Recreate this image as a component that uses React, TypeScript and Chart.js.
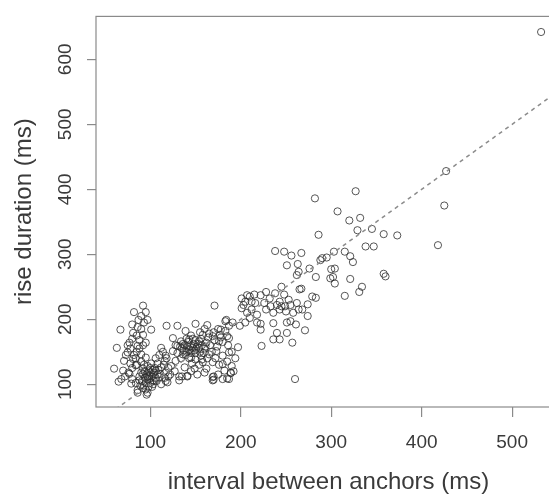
import React, { useEffect, useRef } from "react";
import { Chart, registerables } from "chart.js";

Chart.register(...registerables);

// interval between anchors (ms)
const intervalMs: number[] = [
  532, 427, 425, 418, 373, 358, 345, 327, 282, 307, 320, 332, 329, 286, 338, 347, 303, 315, 321, 324,
  295, 290, 288, 304, 302, 304, 321, 358, 360, 334, 331, 315, 238, 248, 256, 267, 251, 263, 276, 264,
  262, 283, 299, 267, 245, 283, 279, 274, 274, 271, 257, 260, 236, 223, 243, 240, 251, 251, 255, 261,
  236, 222, 222, 300, 265,
  201, 205, 210, 216, 222, 228, 232, 240, 243, 249, 255, 262, 264, 201, 207, 212, 218, 228, 236, 243,
  210, 218, 205, 199, 191, 187, 183, 212, 207, 203, 245, 250, 258, 268, 253, 226, 233, 215, 238, 248,
  171, 197, 185, 189, 185, 170, 170, 135, 141, 117, 118, 130, 150, 163, 184, 178, 139, 125, 134, 143,
  158, 169, 176, 187, 112, 117, 125, 130, 147, 154, 162, 136, 145, 156, 165, 173, 180, 187, 169, 180,
  128, 116, 138, 149, 132, 141, 169, 169, 187, 189, 182, 132, 162, 158,
  135, 138, 140, 142, 144, 146, 148, 150, 152, 154, 136, 139, 143, 147, 151, 155, 157, 160, 133, 137,
  141, 145, 149, 153, 156, 159, 161, 164, 166, 168, 171, 174, 177, 180, 183, 186, 190, 194, 140, 145,
  150, 155, 160, 165, 170, 175, 178, 130, 128, 134, 143, 150, 157, 163, 146, 154, 172, 176, 185, 190,
  192, 127, 123, 120, 145, 152, 160, 175, 180,
  92, 82, 95, 87, 97, 80, 101, 67, 81, 92, 95, 63, 77, 86, 75, 90, 95, 81, 71, 84,
  60, 70, 77, 92, 99, 68, 88, 97, 103, 79, 93, 86, 97, 106, 112, 117, 119, 110, 65, 96, 86,
  88, 90, 92, 94, 96, 98, 100, 102, 104, 106, 108, 91, 93, 95, 97, 99, 101, 103, 105, 107,
  109, 111, 89, 92, 95, 98, 100, 102, 104, 94, 97, 100, 103, 90, 85, 80, 78, 82, 85, 88,
  92, 78, 84, 88, 85, 90, 93, 86, 90, 80, 75, 73, 76, 72, 80, 84, 115, 118, 114, 110,
  106, 108, 112, 116, 122, 120,
];

// rise duration (ms)
const riseMs: number[] = [
  642, 428, 375, 314, 329, 331, 339, 397, 386, 366, 352, 356, 337, 330, 312, 312, 304, 304, 297, 288,
  295, 294, 291, 278, 265, 255, 262, 270, 266, 250, 242, 236, 305, 304, 298, 302, 283, 285, 278, 273,
  268, 265, 263, 247, 250, 233, 235, 223, 205, 183, 164, 108, 169, 159, 169, 179, 179, 195, 197, 192,
  194, 193, 184, 277, 246,
  232, 227, 235, 225, 237, 242, 232, 222, 227, 220, 222, 225, 215, 217, 210, 215, 207, 215, 210, 215,
  202, 195, 195, 190, 195, 190, 197, 227, 237, 222, 220, 212, 210, 215, 230, 225, 220, 238, 240, 238,
  221, 157, 174, 117, 109, 112, 107, 112, 113, 105, 190, 190, 193, 191, 199, 184, 182, 171, 166, 169,
  176, 174, 166, 171, 156, 144, 151, 159, 156, 156, 164, 146, 141, 144, 146, 151, 144, 149, 134, 131,
  136, 136, 126, 124, 112, 112, 111, 106, 108, 118, 121, 106, 124, 134,
  155, 160, 150, 165, 158, 152, 162, 148, 158, 166, 162, 145, 153, 170, 155, 150, 160, 155, 158, 152,
  158, 148, 152, 162, 170, 148, 158, 172, 160, 150, 168, 158, 176, 165, 182, 160, 150, 140, 170, 175,
  168, 180, 185, 178, 180, 185, 172, 148, 160, 140, 140, 138, 138, 140, 132, 130, 140, 130, 135, 128,
  120, 120, 128, 112, 120, 115, 118, 115, 108,
  221, 211, 211, 199, 199, 192, 184, 184, 179, 176, 164, 156, 164, 159, 149, 146, 141, 139, 136, 129,
  124, 121, 116, 116, 113, 108, 106, 108, 106, 101, 98, 91, 87, 121, 126, 118, 103, 111, 104, 84, 87,
  112, 118, 124, 110, 115, 120, 125, 112, 118, 110, 115, 105, 130, 102, 128, 108, 132, 100, 125, 105,
  122, 116, 98, 94, 92, 96, 102, 96, 105, 120, 112, 118, 122, 135, 130, 125, 132, 145, 150, 155,
  160, 155, 140, 168, 175, 185, 195, 188, 205, 170, 160, 145, 118, 112, 108, 102, 130, 140, 150, 145,
  140, 132, 100, 110, 115, 125,
];

// dashed reference line y = x
const refLine: number[] = [40, 560];

const xTicks: number[] = [100, 200, 300, 400, 500];
const yTicks: number[] = [100, 200, 300, 400, 500, 600];

const boxPlugin = {
  id: "rbox",
  afterDraw(chart: any) {
    const { ctx, chartArea } = chart;
    ctx.save();
    ctx.strokeStyle = "#8a8a8a";
    ctx.lineWidth = 1.2;
    ctx.strokeRect(chartArea.left, chartArea.top, chartArea.right - chartArea.left, chartArea.bottom - chartArea.top);
    ctx.restore();
  },
};

export default function App() {
  const ref = useRef<HTMLCanvasElement | null>(null);

  useEffect(() => {
    document.documentElement.style.overflow = "hidden";
    document.body.style.overflow = "hidden";
    const canvas = ref.current;
    if (!canvas) return;
    const points = intervalMs.map((x, i) => ({ x, y: riseMs[i] }));
    const line = refLine.map((v) => ({ x: v, y: v }));
    const font = "'Liberation Sans', Arial, Helvetica, sans-serif";
    const chart = new Chart(canvas, {
      type: "scatter",
      data: {
        datasets: [
          {
            type: "line",
            data: line,
            borderColor: "#8c8c8c",
            borderWidth: 1.5,
            borderDash: [4, 4],
            pointRadius: 0,
            fill: false,
          } as any,
          {
            data: points,
            pointStyle: "circle",
            pointRadius: 3.6,
            pointBorderWidth: 1,
            borderColor: "rgba(45,45,45,0.8)",
            backgroundColor: "rgba(0,0,0,0)",
          },
        ],
      },
      options: {
        responsive: false,
        animation: false,
        events: [],
        layout: { padding: { top: 10, right: 9, left: 0, bottom: 0 } },
        plugins: { legend: { display: false }, tooltip: { enabled: false } },
        scales: {
          x: {
            type: "linear",
            min: 40,
            max: 554,
            afterFit: (s: any) => {
              s.height = 88;
            },
            afterBuildTicks: (s: any) => {
              s.ticks = xTicks.map((v) => ({ value: v }));
            },
            grid: { display: true, drawOnChartArea: false, drawTicks: true, tickLength: 10, color: "#8a8a8a", lineWidth: 1.2 },
            border: { display: false },
            ticks: { color: "#3a3a3a", padding: 14, font: { family: font, size: 19 }, maxRotation: 0 },
            title: {
              display: true,
              text: "interval between anchors (ms)",
              color: "#3a3a3a",
              font: { family: font, size: 24, lineHeight: 1 },
              padding: { top: 0, bottom: 1 },
            },
          },
          y: {
            type: "linear",
            min: 65,
            max: 666,
            afterFit: (s: any) => {
              s.width = 96;
            },
            afterBuildTicks: (s: any) => {
              s.ticks = yTicks.map((v) => ({ value: v }));
            },
            grid: { display: true, drawOnChartArea: false, drawTicks: true, tickLength: 9, color: "#8a8a8a", lineWidth: 1.2 },
            border: { display: false },
            ticks: {
              color: "#3a3a3a",
              padding: 5,
              minRotation: 90,
              maxRotation: 90,
              crossAlign: "center",
              font: { family: font, size: 19 },
            },
            title: {
              display: true,
              text: "rise duration (ms)",
              color: "#3a3a3a",
              font: { family: font, size: 24, lineHeight: 1 },
              padding: { top: 12, bottom: 0 },
            },
          },
        },
      },
      plugins: [boxPlugin],
    });
    return () => chart.destroy();
  }, []);

  return (
    <div style={{ position: "fixed", left: 0, top: 0, width: 570, height: 495, background: "#fff" }}>
      <canvas ref={ref} width={570} height={495} style={{ width: 570, height: 495, display: "block" }} />
    </div>
  );
}
